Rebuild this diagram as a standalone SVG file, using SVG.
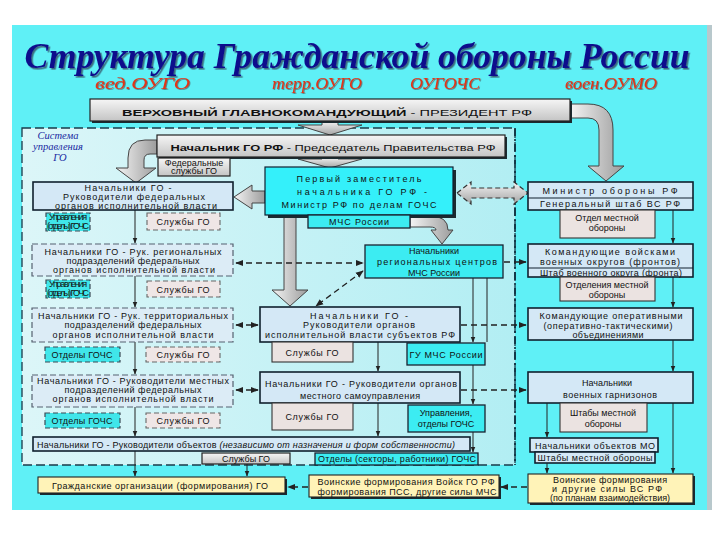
<svg xmlns="http://www.w3.org/2000/svg" width="720" height="540" viewBox="0 0 720 540">
<defs>
<linearGradient id="gGray" x1="0" y1="0" x2="0" y2="1"><stop offset="0" stop-color="#f6f6f6"/><stop offset="1" stop-color="#c4c4c4"/></linearGradient>
<linearGradient id="gArr" x1="0" y1="0" x2="1" y2="0"><stop offset="0" stop-color="#f4f4f4"/><stop offset="1" stop-color="#9c9c9c"/></linearGradient>
<linearGradient id="gArrV" x1="0" y1="0" x2="0" y2="1"><stop offset="0" stop-color="#f4f4f4"/><stop offset="1" stop-color="#a4a4a4"/></linearGradient>
<linearGradient id="gInner" x1="0" y1="0" x2="1" y2="0"><stop offset="0" stop-color="#dcf6f8"/><stop offset="1" stop-color="#b2eef3"/></linearGradient>
<filter id="tsh" x="-5%" y="-20%" width="110%" height="140%"><feDropShadow dx="1.6" dy="1.6" stdDeviation="0.6" flood-color="#202040" flood-opacity="0.65"/></filter>
<filter id="ssh" x="-5%" y="-20%" width="110%" height="140%"><feDropShadow dx="0.8" dy="0.8" stdDeviation="0.3" flood-color="#402020" flood-opacity="0.6"/></filter>
<marker id="ah" viewBox="0 0 10 10" refX="9" refY="5" markerWidth="6" markerHeight="6" orient="auto-start-reverse"><path d="M0,1 L10,5 L0,9 z" fill="#222"/></marker>
<style>
.t{font-family:"Liberation Sans",Arial,sans-serif;font-size:9px;fill:#111;text-anchor:middle}
.gray{fill:url(#gGray);stroke:#222;stroke-width:1.2}
.blue{fill:#d4e8f6;stroke:#10202e;stroke-width:1.6}
.blued{fill:#dcecf6;stroke:#556070;stroke-width:1.2;stroke-dasharray:6 3}
.cyan{fill:#3cecf2;stroke:#1a2230;stroke-width:1.3}
.cyand{fill:#40e6ea;stroke:#3a4a55;stroke-width:1.2;stroke-dasharray:5 3}
.pinkd{fill:#efe6e6;stroke:#666;stroke-width:1.1;stroke-dasharray:5 3}
.pink{fill:#ebe3e1;stroke:#333;stroke-width:1.1}
.cream{fill:#fff3b8;stroke:#222;stroke-width:1.1}
.sh{fill:#1a2a30}
.ln{stroke:#222;stroke-width:1;fill:none}
.dl{stroke:#222;stroke-width:1.3;stroke-dasharray:6 4;fill:none}
.fat{fill:url(#gArr);stroke:#444;stroke-width:1}
.fatv{fill:url(#gArrV);stroke:#444;stroke-width:1}
.sys{font-family:"Liberation Serif",serif;font-style:italic;font-size:10.5px;fill:#1828a0;text-anchor:middle}
.sub{font-family:"Liberation Serif",serif;font-style:italic;font-size:16px;fill:#e23418}
</style>
</defs>

<g id="background">
<rect x="0" y="0" width="720" height="540" fill="#ffffff"/>
<rect x="12" y="25" width="695" height="485" fill="#5ff0f6"/>
<rect x="707" y="25" width="5" height="485" fill="#b8c8cc"/>
<rect x="22" y="128" width="493" height="337" fill="url(#gInner)" stroke="#1a3a4a" stroke-width="1.3" stroke-dasharray="9 4"/>
<line x1="515" y1="128" x2="515" y2="465" stroke="#0a2a3a" stroke-width="1.6" stroke-dasharray="8 3 2 3"/>
</g>

<g id="title">
<text x="357" y="68" font-family="Liberation Serif,serif" font-weight="bold" font-style="italic" font-size="36" fill="#10108c" text-anchor="middle" textLength="665" lengthAdjust="spacingAndGlyphs" filter="url(#tsh)">Структура Гражданской обороны России</text>
<g filter="url(#ssh)">
<text class="sub" x="95" y="89" textLength="95" lengthAdjust="spacingAndGlyphs">вед.ОУГО</text>
<text class="sub" x="272" y="89" textLength="90" lengthAdjust="spacingAndGlyphs">терр.ОУГО</text>
<text class="sub" x="410" y="89" textLength="70" lengthAdjust="spacingAndGlyphs">ОУГОЧС</text>
<text class="sub" x="565" y="89" textLength="92" lengthAdjust="spacingAndGlyphs">воен.ОУМО</text>
</g>
</g>

<g id="system-label">
<text class="sys" x="58" y="139">Система</text>
<text class="sys" x="58" y="150">управления</text>
<text class="sys" x="60" y="161">ГО</text>
</g>

<g id="connectors">
<path class="fatv" d="M322,121 L338,121 L338,125 L362,125 L330,135 L298,125 L322,125 Z"/>
<path class="fatv" d="M322,157 L338,157 L338,159 L362,159 L330,168 L298,159 L322,159 Z"/>
<path class="fat" d="M570,104 L588,104 Q613,104 613,130 L613,166 L624,166 L606,181 L588,166 L599,166 L599,130 Q599,118 588,118 L570,118 Z"/>
<path class="fat" d="M157,140 L145,140 Q128,140 128,158 L128,168 L116,168 L136,183 L156,168 L144,168 L144,160 Q144,154 150,154 L157,154 Z"/>
<path class="fat" d="M234,197 L252,185 L252,191 L265,191 L265,203 L252,203 L252,209 Z"/>
<path d="M457,193 L471,182 L471,188 L514,188 L514,182 L528,193 L514,204 L514,198 L471,198 L471,204 Z" fill="url(#gArrV)" stroke="#333" stroke-width="1.2" stroke-dasharray="5 3"/>
<path class="fat" d="M284,215 L296,215 L296,290 L308,290 L290,306 L272,290 L284,290 Z"/>
<path class="fat" d="M410,216 L430,216 Q448,216 448,230 L453,230 L442,244 L431,230 L436,230 Q436,227 430,227 L410,227 Z"/>
<line class="dl" x1="236" y1="263" x2="363" y2="263" marker-start="url(#ah)" marker-end="url(#ah)"/>
<line class="dl" x1="504" y1="262" x2="526" y2="262" marker-end="url(#ah)"/>
<line class="dl" x1="363" y1="271" x2="316" y2="306" marker-start="url(#ah)" marker-end="url(#ah)"/>
<line class="dl" x1="236" y1="325" x2="258" y2="325" marker-start="url(#ah)" marker-end="url(#ah)"/>
<line class="dl" x1="461" y1="325" x2="526" y2="325" marker-end="url(#ah)"/>
<line class="dl" x1="236" y1="390" x2="258" y2="390" marker-start="url(#ah)" marker-end="url(#ah)"/>
<line class="dl" x1="461" y1="390" x2="526" y2="390" marker-end="url(#ah)"/>
<line class="dl" x1="308" y1="487" x2="288" y2="487" marker-end="url(#ah)"/>
<line class="dl" x1="527" y1="487" x2="501" y2="487" marker-end="url(#ah)"/>
<line class="ln" x1="135" y1="210" x2="135" y2="243" marker-end="url(#ah)"/>
<line class="ln" x1="135" y1="276" x2="135" y2="307" marker-end="url(#ah)"/>
<line class="ln" x1="135" y1="342" x2="135" y2="374" marker-end="url(#ah)"/>
<line class="ln" x1="135" y1="407" x2="135" y2="436" marker-end="url(#ah)"/>
<line class="ln" x1="135" y1="451" x2="135" y2="476" marker-end="url(#ah)"/>
<line class="ln" x1="247" y1="464" x2="247" y2="476" marker-end="url(#ah)"/>
<line class="ln" x1="378" y1="342" x2="378" y2="371" marker-end="url(#ah)"/>
<line class="ln" x1="378" y1="403" x2="378" y2="436" marker-end="url(#ah)"/>
<line class="ln" x1="473" y1="278" x2="473" y2="342" marker-end="url(#ah)"/>
<line class="ln" x1="487" y1="278" x2="487" y2="342"/>
<line class="ln" x1="473" y1="365" x2="473" y2="404" marker-end="url(#ah)"/>
<line class="ln" x1="473" y1="432" x2="473" y2="452" marker-end="url(#ah)"/>
<line class="ln" x1="673" y1="210" x2="673" y2="243" marker-end="url(#ah)"/>
<line class="ln" x1="673" y1="277" x2="673" y2="307" marker-end="url(#ah)"/>
<line class="ln" x1="673" y1="340" x2="673" y2="371" marker-end="url(#ah)"/>
<line class="ln" x1="673" y1="403" x2="673" y2="473" marker-end="url(#ah)"/>
<line class="ln" x1="547" y1="403" x2="547" y2="437" marker-end="url(#ah)"/>
<line class="ln" x1="547" y1="463" x2="547" y2="473" marker-end="url(#ah)"/>
</g>

<g id="n-president">
<rect x="92" y="101" width="480" height="22" class="sh"/>
<rect x="90" y="99" width="480" height="22" class="gray"/>
<text class="t" x="327" y="115.5" font-size="14.5" textLength="410" lengthAdjust="spacingAndGlyphs"><tspan font-weight="bold">ВЕРХОВНЫЙ  ГЛАВНОКОМАНДУЮЩИЙ</tspan>  -  ПРЕЗИДЕНТ  РФ</text>
</g>

<g id="n-chief">
<rect x="159" y="137" width="348" height="22" class="sh"/>
<rect x="157" y="135" width="348" height="22" class="gray"/>
<text class="t" x="333" y="150.5" font-size="12.5" textLength="325" lengthAdjust="spacingAndGlyphs"><tspan font-weight="bold">Начальник ГО РФ</tspan> - Председатель Правительства РФ</text>
</g>

<g id="n-fedsl">
<rect x="158" y="158" width="72" height="18" class="gray"/>
<text class="t" x="194" y="165.5" font-size="7.5">Федеральные</text>
<text class="t" x="194" y="174" font-size="7.5">службы ГО</text>
</g>

<g id="n-first">
<rect x="268" y="170" width="188" height="48" class="sh"/>
<rect x="265" y="167" width="188" height="48" fill="#34f0fa" stroke="#102030" stroke-width="1.2"/>
<text class="t" x="359" y="182" font-size="11" textLength="125">Первый заместитель</text>
<text class="t" x="362" y="195" font-size="11" textLength="130">начальника ГО РФ -</text>
<text class="t" x="359" y="208" font-size="11" textLength="155">Министр РФ по делам ГОЧС</text>
</g>

<g id="n-mchs">
<rect x="308" y="215" width="102" height="13" class="cyan"/>
<text class="t" x="359" y="225" font-size="9.5" textLength="60">МЧС России</text>
</g>

<g id="n-region">
<rect x="365" y="245" width="138" height="33" class="cyan"/>
<text class="t" x="434" y="254">Начальники</text>
<text class="t" x="437" y="265" textLength="120">региональных центров</text>
<text class="t" x="434" y="276">МЧС России</text>
</g>

<g id="n-fed">
<rect x="33" y="182" width="200" height="28" class="blue"/>
<text class="t" x="128" y="191" textLength="87">Начальники ГО -</text>
<text class="t" x="134" y="200" textLength="142">Руководители федеральных</text>
<text class="t" x="136" y="208.5" textLength="162">органов исполнительной власти</text>
</g>
<g id="n-fed-upr">
<rect x="46" y="213" width="44" height="18" class="cyand"/>
<text class="t" x="68" y="220" font-size="6.8" textLength="38">Управления</text>
<text class="t" x="68" y="228.5" font-size="6.8" textLength="42">(отделы) ГОЧС</text>
</g>
<g id="n-fed-sl">
<rect x="147" y="213" width="73" height="17" class="pinkd"/>
<text class="t" x="183" y="225" font-size="9.5" textLength="53">Службы ГО</text>
</g>

<g id="n-reg">
<rect x="32" y="244" width="201" height="32" class="blued"/>
<text class="t" x="133" y="255" textLength="177">Начальники ГО - Рук. региональных</text>
<text class="t" x="133" y="264" textLength="133">подразделений федеральных</text>
<text class="t" x="134" y="273" textLength="162">органов исполнительной власти</text>
</g>
<g id="n-reg-upr">
<rect x="46" y="280" width="44" height="18" class="cyand"/>
<text class="t" x="68" y="287" font-size="6.8" textLength="38">Управления</text>
<text class="t" x="68" y="295.5" font-size="6.8" textLength="42">(отделы) ГОЧС</text>
</g>
<g id="n-reg-sl">
<rect x="147" y="281" width="73" height="16" class="pinkd"/>
<text class="t" x="183" y="293" font-size="9.5" textLength="53">Службы ГО</text>
</g>

<g id="n-ter">
<rect x="32" y="308" width="201" height="34" class="blued"/>
<text class="t" x="133" y="318.5" textLength="190">Начальники ГО - Рук. территориальных</text>
<text class="t" x="133" y="328" textLength="137">подразделений федеральных</text>
<text class="t" x="133" y="337.5" textLength="161">органов исполнительной власти</text>
</g>
<g id="n-ter-ot">
<rect x="45" y="347" width="75" height="15" class="cyand"/>
<text class="t" x="82" y="358" font-size="9.5" textLength="61">Отделы ГОЧС</text>
</g>
<g id="n-ter-sl">
<rect x="146" y="347" width="74" height="15" class="pinkd"/>
<text class="t" x="183" y="358" font-size="9.5" textLength="53">Службы ГО</text>
</g>

<g id="n-loc">
<rect x="32" y="375" width="201" height="32" class="blued"/>
<text class="t" x="133" y="384" textLength="192">Начальники ГО - Руководители местных</text>
<text class="t" x="133" y="393" textLength="137">подразделений федеральных</text>
<text class="t" x="133" y="402" textLength="161">органов исполнительной власти</text>
</g>
<g id="n-loc-ot">
<rect x="45" y="413" width="75" height="15" class="cyand"/>
<text class="t" x="82" y="424" font-size="9.5" textLength="61">Отделы ГОЧС</text>
</g>
<g id="n-loc-sl">
<rect x="146" y="413" width="74" height="15" class="pinkd"/>
<text class="t" x="183" y="424" font-size="9.5" textLength="53">Службы ГО</text>
</g>

<g id="n-subj">
<rect x="260" y="307" width="200" height="35" class="blue"/>
<text class="t" x="359" y="318.5" textLength="98">Начальники ГО -</text>
<text class="t" x="359" y="328" textLength="112">Руководители органов</text>
<text class="t" x="360" y="337.5" textLength="190">исполнительной власти субъектов РФ</text>
</g>
<g id="n-subj-sl">
<rect x="272" y="342" width="81" height="20" class="pink"/>
<text class="t" x="312" y="356" font-size="9.5" textLength="53">Службы ГО</text>
</g>
<g id="n-gu">
<rect x="407" y="343" width="78" height="22" class="cyan"/>
<text class="t" x="446" y="358" textLength="73">ГУ МЧС России</text>
</g>

<g id="n-mest">
<rect x="260" y="372" width="200" height="31" class="blue"/>
<text class="t" x="361" y="387" font-size="9.5" textLength="192">Начальники ГО - Руководители органов</text>
<text class="t" x="360" y="399" font-size="9.5" textLength="120">местного самоуправления</text>
</g>
<g id="n-mest-sl">
<rect x="272" y="403" width="81" height="27" class="pink"/>
<text class="t" x="312" y="420" font-size="9.5" textLength="53">Службы ГО</text>
</g>
<g id="n-mest-upr">
<rect x="408" y="405" width="77" height="27" class="cyan"/>
<text class="t" x="446" y="416">Управления,</text>
<text class="t" x="446" y="427">отделы ГОЧС</text>
</g>

<g id="n-obj">
<rect x="33" y="437" width="437" height="14" class="blue" stroke-width="1.2"/>
<text class="t" x="37" y="448" style="text-anchor:start" textLength="418">Начальники ГО - Руководители объектов <tspan font-style="italic">(независимо от назначения и форм собственности)</tspan></text>
</g>
<g id="n-obj-sl">
<rect x="202" y="453" width="88" height="11" class="gray"/>
<text class="t" x="246" y="462">Службы ГО</text>
</g>
<g id="n-obj-ot">
<rect x="315" y="453" width="163" height="12" class="cyan"/>
<text class="t" x="397" y="462" textLength="158">Отделы (секторы, работники) ГОЧС</text>
</g>

<g id="n-mo">
<rect x="528" y="182" width="165" height="28" class="blue"/>
<line x1="528" y1="198" x2="693" y2="198" stroke="#10202e" stroke-width="1.2"/>
<text class="t" x="610" y="194" font-size="10" textLength="135">Министр обороны РФ</text>
<text class="t" x="610" y="207" font-size="10" textLength="140">Генеральный штаб ВС РФ</text>
</g>
<g id="n-mo-ot">
<rect x="560" y="210" width="95" height="28" class="pink"/>
<text class="t" x="607" y="221" font-size="9.5">Отдел местной</text>
<text class="t" x="607" y="231" font-size="9.5">обороны</text>
</g>
<g id="n-vo">
<rect x="528" y="244" width="165" height="33" class="blue"/>
<line x1="528" y1="268" x2="693" y2="268" stroke="#10202e" stroke-width="1.2"/>
<text class="t" x="610" y="255" font-size="9.5" textLength="130">Командующие войсками</text>
<text class="t" x="610" y="265" font-size="9.5" textLength="140">военных округов (фронтов)</text>
<text class="t" x="611" y="276" font-size="9.5" textLength="142">Штаб военного округа (фронта)</text>
</g>
<g id="n-vo-ot">
<rect x="560" y="277" width="95" height="24" class="pink"/>
<text class="t" x="607" y="288" font-size="9.5">Отделения местной</text>
<text class="t" x="607" y="298" font-size="9.5">обороны</text>
</g>
<g id="n-op">
<rect x="528" y="308" width="165" height="32" class="blue"/>
<text class="t" x="611" y="318.5" font-size="9.5" textLength="143">Командующие оперативными</text>
<text class="t" x="608" y="328.5" font-size="9.5" textLength="129">(оперативно-тактическими)</text>
<text class="t" x="608" y="338" font-size="9.5" textLength="71">объединениями</text>
</g>
<g id="n-garn">
<rect x="528" y="372" width="165" height="31" class="blue"/>
<text class="t" x="607" y="386" font-size="10.5">Начальники</text>
<text class="t" x="610" y="398" font-size="10" textLength="94">военных гарнизонов</text>
</g>
<g id="n-garn-sh">
<rect x="560" y="403" width="87" height="29" class="pink"/>
<text class="t" x="603" y="416" font-size="10">Штабы местной</text>
<text class="t" x="603" y="427" font-size="10">обороны</text>
</g>
<g id="n-objmo">
<rect x="530" y="438" width="128" height="14" class="blue" stroke-width="1.2"/>
<text class="t" x="595" y="449" font-size="9.5" textLength="120">Начальники объектов МО</text>
</g>
<g id="n-objmo-sh">
<rect x="535" y="452" width="120" height="11" class="blue" stroke-width="1.2"/>
<text class="t" x="595" y="461" font-size="8.5" textLength="115">Штабы местной обороны</text>
</g>

<g id="n-civil">
<rect x="40" y="479" width="247" height="16" class="sh"/>
<rect x="38" y="477" width="247" height="16" class="cream"/>
<text class="t" x="160" y="489" font-size="9.5" textLength="216">Гражданские организации (формирования) ГО</text>
</g>
<g id="n-mchsf">
<rect x="311" y="477" width="190" height="22" class="sh"/>
<rect x="309" y="475" width="190" height="22" class="cream"/>
<text class="t" x="406" y="484.5" textLength="177">Воинские формирования Войск ГО РФ</text>
<text class="t" x="407" y="494.5" textLength="179">формирования ПСС, другие силы МЧС</text>
</g>
<g id="n-vsf">
<rect x="530" y="476" width="165" height="29" class="sh"/>
<rect x="528" y="474" width="165" height="29" class="cream"/>
<text class="t" x="610" y="482.5" font-size="7" textLength="114">Воинские формирования</text>
<text class="t" x="607" y="491.5" font-size="7" textLength="110">и другие силы ВС РФ</text>
<text class="t" x="610" y="500.5" font-size="7" textLength="120">(по планам взаимодействия)</text>
</g>
</svg>
